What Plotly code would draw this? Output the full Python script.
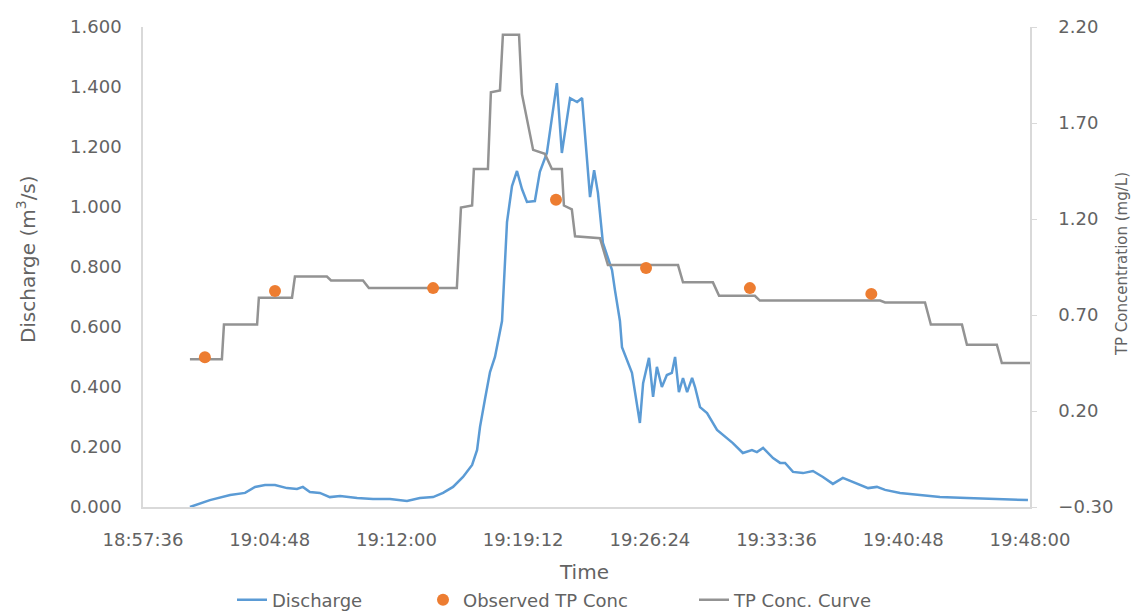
import plotly.graph_objects as go

DAY = "2000-01-01 "

discharge_time = ["19:00:16", "19:01:24", "19:02:33", "19:03:24", "19:03:58", "19:04:32", "19:05:06",
                  "19:05:47", "19:06:21", "19:06:41", "19:07:05", "19:07:39", "19:08:13", "19:08:48",
                  "19:09:46", "19:10:40", "19:11:38", "19:12:36", "19:13:20", "19:14:05", "19:14:39",
                  "19:15:13", "19:15:47", "19:16:18", "19:16:35", "19:16:45", "19:17:02", "19:17:19",
                  "19:17:36", "19:17:46", "19:18:00", "19:18:17", "19:18:34", "19:18:51", "19:19:08",
                  "19:19:25", "19:19:52", "19:20:09", "19:20:33", "19:21:07", "19:21:24", "19:21:52",
                  "19:22:16", "19:22:33", "19:23:00", "19:23:14", "19:23:27", "19:23:44", "19:24:15",
                  "19:24:25", "19:24:42", "19:24:49", "19:25:23", "19:25:50", "19:26:01", "19:26:21",
                  "19:26:35", "19:26:48", "19:27:05", "19:27:22", "19:27:39", "19:27:50", "19:28:03",
                  "19:28:17", "19:28:31", "19:28:48", "19:28:58", "19:29:15", "19:29:39", "19:30:13",
                  "19:30:33", "19:31:07", "19:31:41", "19:32:12", "19:32:29", "19:32:50", "19:33:24",
                  "19:33:48", "19:34:05", "19:34:32", "19:35:06", "19:35:40", "19:36:14", "19:36:48",
                  "19:37:22", "19:37:56", "19:38:48", "19:39:18", "19:39:46", "19:40:37", "19:41:35",
                  "19:42:53", "19:44:25", "19:45:54", "19:47:53"]
discharge = [0.000, 0.023, 0.040, 0.047, 0.067, 0.073, 0.073,
             0.063, 0.060, 0.067, 0.050, 0.047, 0.033, 0.037,
             0.030, 0.027, 0.027, 0.020, 0.030, 0.033, 0.047,
             0.067, 0.100, 0.140, 0.190, 0.267, 0.360, 0.450,
             0.500, 0.550, 0.620, 0.950, 1.070, 1.120, 1.060,
             1.017, 1.020, 1.117, 1.180, 1.413, 1.180, 1.363,
             1.350, 1.363, 1.033, 1.123, 1.047, 0.880, 0.790,
             0.723, 0.620, 0.533, 0.447, 0.280, 0.413, 0.497,
             0.367, 0.467, 0.400, 0.440, 0.447, 0.500, 0.383,
             0.430, 0.383, 0.430, 0.400, 0.333, 0.313, 0.257,
             0.240, 0.213, 0.180, 0.190, 0.183, 0.197, 0.163,
             0.147, 0.147, 0.117, 0.113, 0.120, 0.100, 0.077,
             0.097, 0.083, 0.063, 0.067, 0.057, 0.047, 0.040,
             0.033, 0.030, 0.027, 0.023]

curve_time = ["19:00:16", "19:02:05", "19:02:12", "19:04:05", "19:04:11", "19:06:04", "19:06:14",
              "19:08:03", "19:08:17", "19:10:06", "19:10:26", "19:15:26", "19:15:40", "19:16:18",
              "19:16:24", "19:17:12", "19:17:22", "19:17:53", "19:18:03", "19:18:58", "19:19:08",
              "19:19:46", "19:20:26", "19:20:50", "19:21:24", "19:21:31", "19:21:58", "19:22:09",
              "19:23:34", "19:24:01", "19:28:00", "19:28:17", "19:29:59", "19:30:20", "19:32:22",
              "19:32:39", "19:39:29", "19:39:46", "19:42:02", "19:42:22", "19:44:08", "19:44:25",
              "19:46:07", "19:46:24", "19:48:00"]
curve_conc = [0.47, 0.47, 0.65, 0.65, 0.79, 0.79, 0.90,
              0.90, 0.88, 0.88, 0.84, 0.84, 1.26, 1.27,
              1.46, 1.46, 1.86, 1.87, 2.16, 2.16, 1.85,
              1.56, 1.54, 1.46, 1.46, 1.27, 1.25, 1.11,
              1.10, 0.96, 0.96, 0.87, 0.87, 0.80, 0.80,
              0.775, 0.775, 0.765, 0.765, 0.65, 0.65, 0.545,
              0.545, 0.45, 0.45]

obs_time = ["19:01:07", "19:05:06", "19:14:05", "19:21:04", "19:26:11", "19:32:05", "19:38:59"]
obs_conc = [0.48, 0.825, 0.84, 1.30, 0.945, 0.84, 0.81]

x_ticks = ["18:57:36", "19:04:48", "19:12:00", "19:19:12", "19:26:24", "19:33:36", "19:40:48", "19:48:00"]

FONT = "DejaVu Sans"
TXT = "#636363"
AX = "#d9d9d9"

fig = go.Figure()
fig.add_trace(go.Scatter(x=[DAY + t for t in discharge_time], y=discharge, mode="lines",
                         name="Discharge", line=dict(color="#5B9BD5", width=2.5), legend="legend"))
fig.add_trace(go.Scatter(x=[DAY + t for t in curve_time], y=curve_conc, mode="lines",
                         name="TP Conc. Curve", line=dict(color="#939393", width=2.5),
                         yaxis="y2", legend="legend3"))
fig.add_trace(go.Scatter(x=[DAY + t for t in obs_time], y=obs_conc, mode="markers",
                         name="Observed TP Conc", marker=dict(color="#ED7D31", size=12),
                         yaxis="y2", legend="legend2"))

W = 1139.0
leg_common = dict(orientation="h", xref="container", yref="container", y=0.021,
                  xanchor="left", yanchor="middle", font=dict(size=18, color=TXT),
                  bgcolor="rgba(0,0,0,0)")

fig.update_layout(
    width=1139, height=613,
    margin=dict(l=143, r=109, t=27, b=106),
    paper_bgcolor="white", plot_bgcolor="white",
    font=dict(family=FONT, size=18, color=TXT),
    showlegend=True,
    legend=dict(x=232 / W, **leg_common),
    legend2=dict(x=423 / W, **leg_common),
    legend3=dict(x=694 / W, **leg_common),
    xaxis=dict(type="date", range=[DAY + x_ticks[0], DAY + x_ticks[-1]],
               tickvals=[DAY + t for t in x_ticks], ticktext=x_ticks,
               showline=True, linecolor=AX, linewidth=1.5, showgrid=False, zeroline=False,
               ticks="", ticklabelstandoff=16, tickfont=dict(size=18, color=TXT)),
    yaxis=dict(range=[0, 1.6], dtick=0.2, tick0=0, tickformat=".3f",
               showline=True, linecolor=AX, linewidth=1.5, showgrid=False, zeroline=False,
               ticks="", ticklabelstandoff=16, tickfont=dict(size=18, color=TXT)),
    yaxis2=dict(range=[-0.3, 2.2], dtick=0.5, tick0=-0.3, tickformat=".2f", overlaying="y", side="right",
                showline=True, linecolor=AX, linewidth=1.5, showgrid=False, zeroline=False,
                ticks="outside", ticklen=5, tickcolor=AX, ticklabelstandoff=18,
                tickfont=dict(size=18, color=TXT)),
    annotations=[
        dict(text="Time", xref="paper", yref="paper", x=0.497, y=-0.135, showarrow=False,
             font=dict(size=20, color=TXT), xanchor="center", yanchor="middle"),
        dict(text="Discharge (m<sup>3</sup>/s)", xref="paper", yref="paper", x=-0.131, y=0.516,
             showarrow=False, textangle=-90, font=dict(size=20, color=TXT),
             xanchor="center", yanchor="middle"),
        dict(text="TP Concentration (mg/L)", xref="paper", yref="paper", x=1.1037, y=0.506,
             showarrow=False, textangle=-90, font=dict(size=15, color=TXT),
             xanchor="center", yanchor="middle"),
    ],
)

fig.write_html("out.html")
